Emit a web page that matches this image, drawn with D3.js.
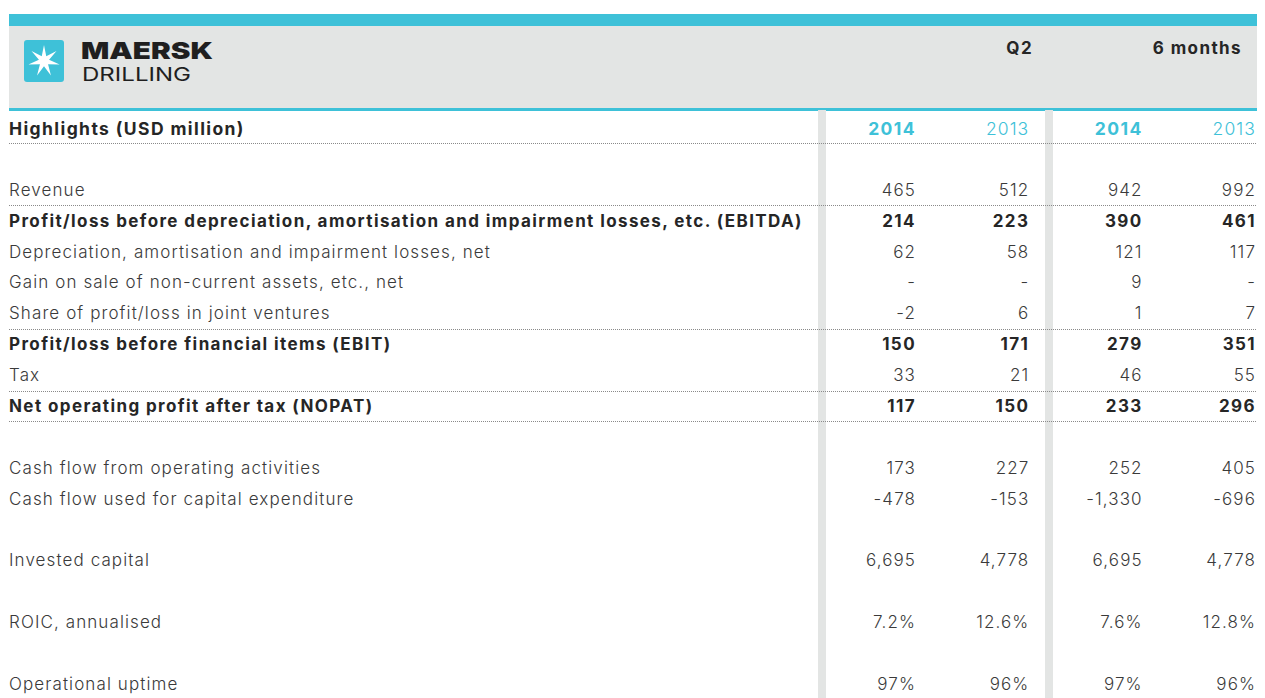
<!DOCTYPE html>
<html><head><meta charset="utf-8">
<script src="https://cdn.jsdelivr.net/npm/d3@7"></script>
<style>
html,body{margin:0;padding:0;background:#fff;}
svg{display:block;}
text{font-family:Inter,"Noto Sans",sans-serif;}
.lt{font-weight:300;letter-spacing:1.1px;}
.bd{font-weight:700;letter-spacing:1.4px;}
</style></head>
<body><svg id="chart" width="1265" height="698"></svg>
<script>
// ---------- data ----------
const title = "Highlights (USD million)";
const periods = ["Q2", "6 months"];
const columns = ["2014", "2013", "2014", "2013"];
const rowLabels = [
  "Revenue",
  "Profit/loss before depreciation, amortisation and impairment losses, etc. (EBITDA)",
  "Depreciation, amortisation and impairment losses, net",
  "Gain on sale of non-current assets, etc., net",
  "Share of profit/loss in joint ventures",
  "Profit/loss before financial items (EBIT)",
  "Tax",
  "Net operating profit after tax (NOPAT)",
  null,
  "Cash flow from operating activities",
  "Cash flow used for capital expenditure",
  null,
  "Invested capital",
  null,
  "ROIC, annualised",
  null,
  "Operational uptime"
];
const q2_2014 = [465, 214, 62, null, -2, 150, 33, 117, null, 173, -478, null, 6695, null, 0.072, null, 0.97];
const q2_2013 = [512, 223, 58, null, 6, 171, 21, 150, null, 227, -153, null, 4778, null, 0.126, null, 0.96];
const m6_2014 = [942, 390, 121, 9, 1, 279, 46, 233, null, 252, -1330, null, 6695, null, 0.076, null, 0.97];
const m6_2013 = [992, 461, 117, null, 7, 351, 55, 296, null, 405, -696, null, 4778, null, 0.128, null, 0.96];
const subtotalRows = [
  "Profit/loss before depreciation, amortisation and impairment losses, etc. (EBITDA)",
  "Profit/loss before financial items (EBIT)",
  "Net operating profit after tax (NOPAT)"
];
const rulesBelow = ["Revenue", "Share of profit/loss in joint ventures", "Tax", "Net operating profit after tax (NOPAT)"];
const percentFormats = {"ROIC, annualised": ".1%", "Operational uptime": ".0%"};

// ---------- setup ----------
const series = [q2_2014, q2_2013, m6_2014, m6_2013];
const locale = d3.formatLocale({decimal: ".", thousands: ",", grouping: [3], currency: ["$", ""], minus: "-"});
function fmt(label, v) {
  if (v == null) return "-";
  if (percentFormats[label]) return locale.format(percentFormats[label])(v);
  return locale.format(",")(v);
}
const CYAN = "#3ec1d8", GREY = "#e3e5e4", DARK = "#262626", TXT = "#3a3a3a";
const svg = d3.select("#chart");

// row scale: header row at 0, a blank row, then data rows
const y = d3.scaleLinear().domain([0, rowLabels.length + 1]).range([128, 684]);
const step = y(1) - y(0);
const x = d3.scalePoint().domain(d3.range(columns.length)).range([916, 1256]);

// header band
svg.append("rect").attr("x", 9).attr("y", 14).attr("width", 1248).attr("height", 12).attr("fill", CYAN);
svg.append("rect").attr("x", 9).attr("y", 26).attr("width", 1248).attr("height", 82).attr("fill", GREY);
svg.append("rect").attr("x", 9).attr("y", 108).attr("width", 1248).attr("height", 3).attr("fill", CYAN);

// separators
[818, 1045].forEach(sx => {
  svg.append("rect").attr("x", sx).attr("y", 110).attr("width", 8).attr("height", 600).attr("fill", GREY);
});

// logo
const logo = svg.append("g");
logo.append("rect").attr("x", 24).attr("y", 40).attr("width", 40).attr("height", 42).attr("rx", 3).attr("fill", CYAN);
const cx = 44, cy = 61, R = 16, r = 5.2, n = 7;
const pts = [];
for (let i = 0; i < n * 2; i++) {
  const a = -Math.PI / 2 + i * Math.PI / n;
  const rr = i % 2 === 0 ? R : r;
  pts.push([cx + rr * Math.cos(a), cy + rr * Math.sin(a)]);
}
logo.append("polygon").attr("points", pts.map(p => p.join(",")).join(" ")).attr("fill", "#fff");
logo.append("text").attr("x", 81).attr("y", 59).attr("font-size", 23.5).attr("font-weight", 900)
  .attr("textLength", 132).attr("lengthAdjust", "spacingAndGlyphs").attr("fill", "#1f1f1f").text("MAERSK");
logo.append("text").attr("x", 82).attr("y", 81).attr("font-size", 19).attr("font-weight", 400)
  .attr("textLength", 109).attr("lengthAdjust", "spacingAndGlyphs").attr("fill", "#1f1f1f").text("DRILLING");

// period headers
svg.append("text").attr("class", "bd").attr("x", 1033).attr("y", 54).attr("text-anchor", "end").attr("font-size", 17)
  .attr("fill", DARK).text(periods[0]);
svg.append("text").attr("class", "bd").attr("x", 1242).attr("y", 54).attr("text-anchor", "end").attr("font-size", 17)
  .attr("fill", DARK).text(periods[1]);

// title row
svg.append("text").attr("class", "bd").attr("x", 9).attr("y", y(0) + 7).attr("font-size", 17.5)
  .attr("fill", DARK).text(title);
svg.selectAll("text.year").data(columns).join("text")
  .attr("class", (d, i) => "year " + (i % 2 === 0 ? "bd" : "lt"))
  .attr("x", (d, i) => x(i)).attr("y", y(0) + 7).attr("text-anchor", "end").attr("font-size", 17.5)
  .attr("fill", CYAN).text(d => d);

// rules
function rule(yy) {
  svg.append("line").attr("x1", 9).attr("x2", 1257).attr("y1", yy).attr("y2", yy)
    .attr("stroke", "#8a8a8a").attr("stroke-width", 1).attr("stroke-dasharray", "1,1");
}
rule(Math.round(y(0) + step / 2) + 0.5);
rowLabels.forEach((l, i) => { if (rulesBelow.includes(l)) rule(Math.round(y(i + 2) + step / 2) + 0.5); });

// rows
const rows = rowLabels.map((l, i) => ({label: l, idx: i + 2})).filter(d => d.label != null);
const g = svg.selectAll("g.row").data(rows).join("g").attr("class", "row")
  .attr("transform", d => `translate(0,${y(d.idx) + 6})`);
g.append("text").attr("x", 9).attr("font-size", 17)
  .attr("class", d => subtotalRows.includes(d.label) ? "bd" : "lt")
  .attr("fill", d => subtotalRows.includes(d.label) ? DARK : TXT).text(d => d.label);
g.each(function(d) {
  const bold = subtotalRows.includes(d.label);
  d3.select(this).selectAll("text.val").data(series.map(s => s[d.idx - 2])).join("text")
    .attr("class", "val " + (bold ? "bd" : "lt"))
    .attr("x", (v, j) => x(j)).attr("text-anchor", "end").attr("font-size", 17)
    .attr("fill", bold ? DARK : TXT)
    .text(v => fmt(d.label, v));
});
</script></body></html>
